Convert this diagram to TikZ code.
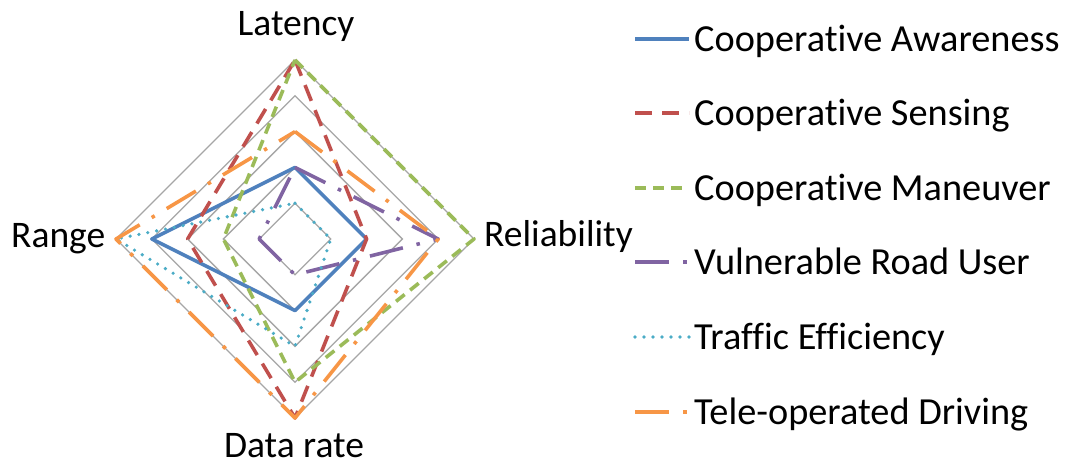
\documentclass[tikz,border=0pt]{standalone}
\usepackage{fontspec}
\setmainfont[Ligatures=NoCommon]{Carlito}
\definecolor{cblue}{HTML}{4F81BD}
\definecolor{cred}{HTML}{C0504D}
\definecolor{cgreen}{HTML}{9BBB59}
\definecolor{cpurple}{HTML}{8064A2}
\definecolor{ccyan}{HTML}{4BACC6}
\definecolor{corange}{HTML}{F79646}
\definecolor{cgrid}{HTML}{A6A6A6}
\tikzset{
  gridline/.style={draw=cgrid, line width=1.3pt},
  serie/.style={line width=3.6pt, line join=round},
  caware/.style={serie, draw=cblue},
  csense/.style={serie, draw=cred, dash pattern=on 17pt off 10pt},
  cmanv/.style={serie, draw=cgreen, dash pattern=on 11pt off 7pt},
  vru/.style={serie, draw=cpurple, dash pattern=on 34pt off 14pt on 3.5pt off 14pt},
  teff/.style={serie, draw=ccyan, line cap=round, dash pattern=on 0pt off 9pt},
  tele/.style={serie, draw=corange, dash pattern=on 34pt off 14pt on 3.5pt off 14pt},
  axislabel/.style={inner sep=0pt, font=\fontsize{37.5}{44}\selectfont},
  legtext/.style={inner sep=0pt, anchor=base west, font=\fontsize{38.3}{44}\selectfont},
}
\newcommand\cx{295}
\newcommand\cy{239}
\newcommand\st{35.8}
% one closed radar line: style, latency, reliability, data rate, range
\newcommand\radarline[5]{%
  \draw[#1] (\cx,\cy-#2*\st) -- (\cx+#3*\st,\cy) -- (\cx,\cy+#4*\st) -- (\cx-#5*\st,\cy) -- cycle;}
\begin{document}
\begin{tikzpicture}[x=1pt,y=-1pt]
\useasboundingbox (0,0) rectangle (1069,466);
% concentric grid
\foreach \k in {1,...,5}
  \draw[gridline] (\cx,\cy-\k*\st) -- (\cx+\k*\st,\cy) -- (\cx,\cy+\k*\st) -- (\cx-\k*\st,\cy) -- cycle;
% axis labels
\node[axislabel, anchor=base] (lat) at (296,35) {Latency};
\node[axislabel, anchor=base west] (rng) at (11,247) {Range};
\node[axislabel, anchor=base west] (rel) at (484,246) {Reliability};
\node[axislabel, anchor=base] (dat) at (294,457) {Data rate};
% series
\radarline{caware}{2}{2}{2}{4}
\radarline{csense}{5}{2}{5}{3}
\radarline{cmanv}{5}{5}{4}{2}
\radarline{vru}{2}{4}{1}{1}
\radarline{teff}{1}{1}{3}{5}
\radarline{tele}{3}{4}{5}{5}
% legend
\foreach \sty/\txt/\yy [count=\i] in {caware/Cooperative Awareness/39,
    csense/Cooperative Sensing/113, cmanv/Cooperative Maneuver/188,
    vru/Vulnerable Road User/262, teff/Traffic Efficiency/337,
    tele/Tele-operated Driving/412}{
  \coordinate (ls\i) at (635,\yy);
  \coordinate (le\i) at (689,\yy);
  \draw[\sty] (ls\i) -- (le\i);
  \node[legtext] (lg\i) at (694,\yy+12) {\txt};
}
\end{tikzpicture}
\end{document}
